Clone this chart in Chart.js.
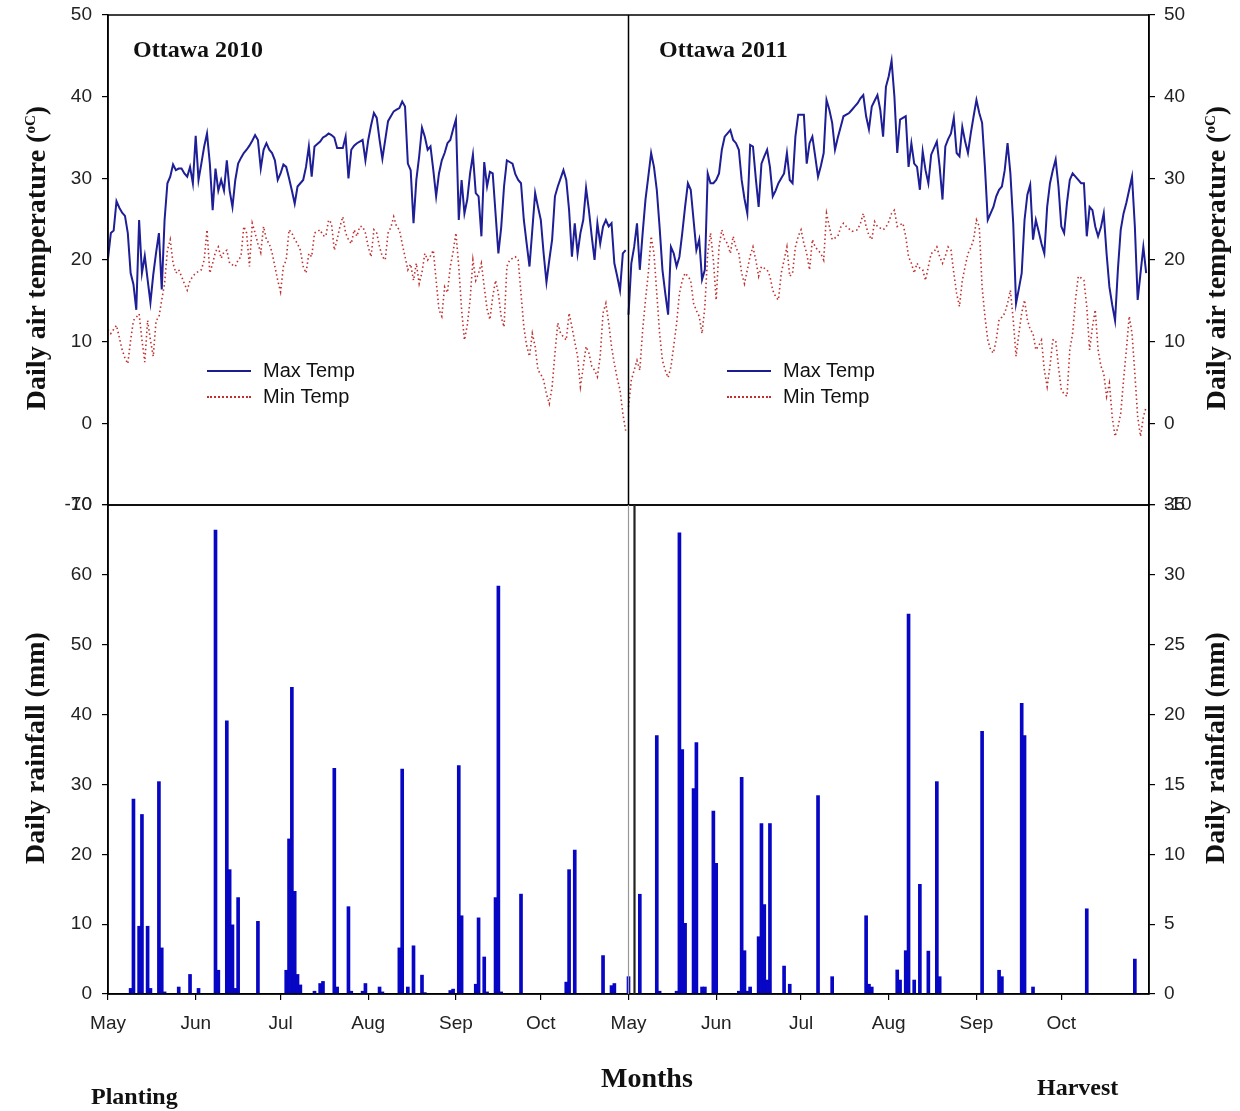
<!DOCTYPE html>
<html>
<head>
<meta charset="utf-8">
<script src="https://cdn.jsdelivr.net/npm/chart.js@4.4.1/dist/chart.umd.min.js"></script>
<style>
  body { margin: 0; background: #fff; width: 1240px; height: 1111px; position: relative; overflow: hidden; }
  canvas { position: absolute; left: 0; }
  #tempCanvas { top: 0; }
  #rainCanvas { top: 495px; }
  .lbl { position: absolute; white-space: nowrap; color: #111; }
  .serif { font-family: "Liberation Serif", "Times New Roman", serif; font-weight: bold; }
  .sans { font-family: "Liberation Sans", Arial, sans-serif; font-size: 20px; }
  .ytitle { width: 400px; height: 32px; line-height: 32px; text-align: center; transform: rotate(-90deg); font-size: 28px; }
  .ytitle sup { font-size: 15px; }
  .key { position: absolute; width: 44px; height: 0; }
</style>
</head>
<body>
<canvas id="tempCanvas" width="1240" height="520"></canvas>
<canvas id="rainCanvas" width="1240" height="616"></canvas>

<div class="lbl serif" style="left:133px; top:36px; font-size:24px;">Ottawa 2010</div>
<div class="lbl serif" style="left:659px; top:36px; font-size:24px;">Ottawa 2011</div>

<div class="key" style="left:207px; top:370px; border-top:2px solid #1c1c8c;"></div>
<div class="lbl sans" style="left:263px; top:359px;">Max Temp</div>
<div class="key" style="left:207px; top:396px; border-top:2px dotted #c03030;"></div>
<div class="lbl sans" style="left:263px; top:385px;">Min Temp</div>
<div class="key" style="left:727px; top:370px; border-top:2px solid #1c1c8c;"></div>
<div class="lbl sans" style="left:783px; top:359px;">Max Temp</div>
<div class="key" style="left:727px; top:396px; border-top:2px dotted #c03030;"></div>
<div class="lbl sans" style="left:783px; top:385px;">Min Temp</div>

<div class="lbl serif ytitle" style="left:-170px; top:242px;">Daily air temperature (<sup>oC</sup>)</div>
<div class="lbl serif ytitle" style="left:1010px; top:242px;">Daily air temperature (<sup>oC</sup>)</div>
<div class="lbl serif ytitle" style="left:-165px; top:732px;">Daily rainfall (mm)</div>
<div class="lbl serif ytitle" style="left:1015px; top:732px;">Daily rainfall (mm)</div>

<div class="lbl serif" style="left:601px; top:1062px; font-size:28px;">Months</div>
<div class="lbl serif" style="left:91px; top:1083px; font-size:24px;">Planting</div>
<div class="lbl serif" style="left:1037px; top:1074px; font-size:24px;">Harvest</div>

<script>
// days since 1 May; 2011 season is shifted right by SEASON_DAYS
const SEASON_DAYS = 184;
const monthStartDays = [0, 31, 61, 92, 123, 153];
const monthLabels = ['May', 'Jun', 'Jul', 'Aug', 'Sep', 'Oct'];
const tempTicks = [-10, 0, 10, 20, 30, 40, 50];

// daily max / min air temperature (deg C), one value per day from 1 May
const max2010 = [
  20.2, 23.3, 23.6, 27.2, 26.4, 25.8, 25.4, 23.3, 18.4, 17, 13.9, 24.9, 18.4, 20.5, 17.6, 14.8, 18.2, 20.9, 23.3, 16.4,
  24.9, 29.4, 30.2, 31.7, 31, 31.2, 31.2, 30.6, 30.2, 31.4, 29.4, 35.2, 29.8, 31.8, 33.9, 35.5, 31.8, 26.1, 31.2, 28.5,
  29.8, 28.5, 32.2, 28.5, 26.5, 29.8, 31.8, 32.5, 33.1, 33.5, 34, 34.6, 35.3, 34.7, 31.2, 33.5, 34.3, 33.5, 33.1, 32.2,
  29.8, 30.6, 31.7, 31.4, 30, 28.5, 26.9, 29, 29.4, 29.8, 31.4, 33.9, 30.2, 33.9, 34.2, 34.5, 35, 35.2, 35.5, 35.3,
  35, 33.7, 33.7, 33.7, 35.1, 30, 33.5, 34, 34.3, 34.5, 34.7, 32.2, 34.7, 36.5, 38, 37.4, 34.7, 32.4, 34.7, 37,
  37.6, 38.2, 38.4, 38.6, 39.4, 38.8, 31.8, 31, 24.5, 29.8, 32.7, 36.2, 35.1, 33.5, 33.9, 31, 27.8, 30.6, 32.2, 33.1,
  34.3, 34.7, 36, 37.2, 24.9, 29.8, 25.7, 27.4, 30.6, 32.9, 28.2, 27.8, 22.9, 32, 29, 30.8, 30.6, 25.7, 20.8, 24,
  29, 32.2, 32, 31.8, 30.5, 29.8, 29.4, 24.9, 22, 19.2, 23.7, 28.2, 26.5, 24.9, 20.8, 17.3, 20, 22.5, 27.8, 29,
  30, 31, 29.8, 26.1, 20.4, 24.5, 20.8, 23.3, 24.9, 28.8, 26.1, 22.9, 20, 24.5, 22, 24.1, 24.9, 24.1, 24.5, 19.6,
  18, 16.3, 20.8, 21.2
];
const min2010 = [
  11.5, 11, 11.5, 12, 10.5, 9, 8, 7.3, 10.2, 12.6, 13, 13.4, 10.2, 7.5, 12.6, 10.2, 8.2, 12.6, 13, 15.1,
  17.1, 21.2, 22.5, 19.6, 18.4, 18.8, 18, 17.1, 16.3, 17.5, 18, 18.4, 18.6, 18.8, 20, 23.7, 18.4, 19.6, 21, 21.6,
  20.2, 21, 21.2, 19.6, 19.4, 19.2, 20, 20.4, 24.1, 23.3, 19.2, 24.5, 23.3, 22, 20.9, 24.1, 22.5, 22, 20.9, 19.2,
  17.5, 16.1, 19.2, 20, 23.7, 23.3, 22.5, 22, 21.2, 19.2, 18.4, 20.8, 20.4, 23.3, 23.5, 23.7, 23, 22.9, 24.9, 24.5,
  21.2, 22.5, 24.1, 25.3, 23.3, 22.5, 22, 23.7, 22.9, 24.1, 24.1, 23.3, 21.6, 20.4, 23.7, 23.3, 21.6, 20.4, 20, 23.3,
  24, 25.3, 24.1, 23.7, 22, 20.4, 18.8, 19.5, 17.5, 19.6, 17.1, 18.5, 20.8, 20, 20.5, 21.2, 17.5, 13.9, 13.1, 16.7,
  16, 19.2, 21, 23.3, 19.2, 13.9, 10.2, 12, 15.1, 20, 17.5, 18.4, 19.6, 16.7, 14, 12.7, 15.5, 17.5, 15.9, 13,
  11.8, 19.2, 20, 20.2, 20.4, 20, 15.9, 11.8, 9.5, 8.2, 11, 9.4, 6.5, 6, 5.3, 3.6, 2.4, 4.5, 8.6, 12.3,
  11, 10.6, 10.2, 13.5, 11.8, 10, 8.2, 4.5, 6.9, 9.4, 8.6, 7, 6.5, 5.7, 8.2, 13.5, 14.7, 12.3, 9.4, 7.3,
  5.5, 4.1, 1.2, -0.9
];
const max2011 = [
  13.3, 19.6, 21.6, 24.5, 18.8, 23.3, 27.4, 30.2, 33.1, 31.4, 28.6, 24, 18.8, 15.9, 13.3, 21.6, 20.8, 19.2, 20.4, 23.3,
  26.5, 29.4, 28.6, 24.9, 21.2, 22.5, 17.6, 18.8, 30.6, 29.4, 29.4, 29.8, 30.6, 33.5, 35.1, 35.5, 35.9, 34.7, 34.3, 33.5,
  29.8, 27.5, 25.7, 34.1, 33.9, 30, 26.5, 31.8, 32.7, 33.5, 31.4, 27.8, 28.5, 29.4, 30, 30.6, 33.1, 29.8, 29.4, 35.1,
  37.8, 37.8, 37.8, 31.8, 34.3, 35.1, 32.7, 30.2, 31.5, 33.1, 39.6, 38.4, 36.8, 33.5, 35, 36.3, 37.6, 37.8, 38, 38.4,
  38.8, 39.2, 39.8, 40.2, 37.6, 36, 38.8, 39.5, 40.2, 38.4, 35.1, 41.2, 42.5, 44.4, 40, 33.1, 37.2, 37.4, 37.6, 31.4,
  34.3, 31.8, 31.4, 28.6, 33.3, 31, 29.4, 32.9, 33.7, 34.5, 31.4, 27.4, 33.9, 34.8, 35.5, 37.4, 33.1, 32.7, 36.3, 34.5,
  33.1, 35.5, 37.6, 39.6, 38, 36.8, 31.4, 24.9, 25.7, 26.5, 27.8, 28.6, 29, 31, 34.3, 30.6, 24.5, 14.7, 16.5, 18.4,
  24.9, 28, 29.2, 22.5, 24.9, 23.5, 22, 20.8, 26.5, 29.4, 31, 32.3, 29, 24.1, 23.3, 27, 29.8, 30.6, 30.2, 29.8,
  29.4, 29.4, 22.9, 26.5, 26.1, 24.1, 22.9, 24, 25.7, 20.8, 16.7, 14.5, 12.6, 18.8, 23.7, 25.7, 27, 28.6, 30.2, 24.1,
  15.1, 18.4, 21.6, 18.4
];
const min2011 = [
  2, 5.3, 6.5, 7.7, 6.5, 11.4, 15.1, 18.4, 22.9, 20.8, 15.9, 11, 7.7, 6.5, 5.6, 6.9, 9.5, 12.2, 15.9, 17.5,
  18.4, 18, 17.5, 14.7, 13.8, 13.1, 11, 14.3, 20.8, 23.3, 20, 15.1, 21.6, 23.7, 22.5, 22, 20.8, 22.9, 21.5, 20.8,
  18.4, 17.1, 18.8, 20.5, 21.6, 20, 18, 19.2, 19, 18.8, 18, 16.3, 15.5, 15.1, 18.4, 20, 21.6, 18, 18.4, 21.6,
  22.9, 23.7, 22, 20.8, 18.8, 22.5, 21.6, 21.2, 20.8, 20, 25.7, 24.1, 22.5, 22.7, 22.9, 24, 24.5, 24.1, 23.8, 23.5,
  23.6, 23.7, 24.5, 25.7, 24.1, 23, 22.5, 24.7, 24.1, 23.9, 23.7, 24, 24.7, 25.7, 26.1, 24.1, 24.3, 24.5, 22.9, 20.4,
  19.6, 18.4, 19.6, 19, 18.8, 17.5, 19.2, 20.8, 21, 21.6, 20.4, 19.6, 20.5, 21.6, 21.2, 18.4, 15.9, 14.3, 17.5, 19.2,
  20.8, 21.5, 22.5, 24.9, 24.1, 16.7, 13.1, 10.2, 9, 8.6, 10.2, 12.7, 13, 13.5, 14.7, 16.3, 12.7, 8.2, 11, 13.5,
  15.1, 12.7, 11.5, 11, 9, 9.5, 10.2, 6.5, 4.5, 7, 10.2, 10.2, 6.9, 4.1, 3.6, 3.3, 9, 11, 15.1, 18,
  17.8, 17.5, 14.3, 9, 11.8, 13.9, 9, 7, 6.1, 3.3, 4.9, 0.8, -1.6, -0.5, 1.2, 5.3, 9, 13.1, 11, 6.1,
  0.8, -1.6, 0.8, 2
];

// daily rainfall: rain days (days since 1 May) and amounts
const rain2010Days = [8, 9, 11, 12, 14, 15, 18, 19, 20, 25, 29, 32, 38, 39, 42, 43, 44, 45, 46, 53,
  63, 64, 65, 66, 67, 68, 73, 75, 76, 80, 81, 85, 86, 90, 91, 96, 97, 103, 104, 106,
  108, 111, 112, 121, 122, 124, 125, 130, 131, 133, 134, 137, 138, 139, 146, 162, 163, 165, 175, 178, 179];
const rain2010Mm = [0.8, 27.9, 9.7, 25.7, 9.7, 0.8, 30.4, 6.6, 0.3, 1.0, 2.8, 0.8, 66.4, 3.4, 39.1, 17.8, 9.9, 0.8, 13.8, 10.4,
  3.4, 22.2, 43.9, 14.7, 2.8, 1.3, 0.4, 1.5, 1.8, 32.3, 1.0, 12.5, 0.4, 0.4, 1.5, 1.0, 0.3, 6.6, 32.2, 1.0,
  6.9, 2.7, 0.2, 0.5, 0.7, 32.7, 11.2, 1.4, 10.9, 5.3, 0.3, 13.8, 58.4, 0.3, 14.3, 1.7, 17.8, 20.6, 5.5, 1.2, 1.5];
// 2011 rainfall is read against the right-hand axis (0-35)
const rain2011Days = [0, 4, 10, 11, 17, 18, 19, 20, 23, 24, 26, 27, 30, 31, 39, 40, 41, 42, 43, 46,
  47, 48, 49, 50, 55, 57, 67, 72, 84, 85, 86, 95, 96, 98, 99, 101, 103, 106, 109, 110,
  125, 131, 132, 139, 140, 143, 162, 179];
const rain2011Mm = [1.24, 7.14, 18.5, 0.2, 0.2, 33.0, 17.5, 5.06, 14.7, 18.0, 0.5, 0.5, 13.1, 9.36, 0.2, 15.5, 3.1, 0.2, 0.5, 4.1,
  12.2, 6.4, 1.0, 12.2, 2.0, 0.7, 14.2, 1.24, 5.6, 0.7, 0.5, 1.72, 1.0, 3.1, 27.2, 1.0, 7.85, 3.07, 15.2, 1.24,
  18.8, 1.7, 1.24, 20.8, 18.5, 0.5, 6.1, 2.5];

const TICK_FONT = { family: '"Liberation Sans", Arial, sans-serif', size: 19 };
const MAX_COLOR = '#1e1e96';
const MIN_COLOR = '#c03030';
const BAR_COLOR = '#0606c4';

function toPoints(values, offset) {
  return values.map((v, i) => ({ x: i + offset, y: v }));
}
function toBars(days, values, offset) {
  return days.map((d, i) => ({ x: d + offset, y: values[i] }));
}

function yAxis(position, min, max, step, width) {
  return {
    position: position,
    min: min,
    max: max,
    ticks: { stepSize: step, font: TICK_FONT, color: '#222', padding: position === 'left' ? 10 : 9 },
    grid: { drawOnChartArea: false, tickLength: 6, color: '#000', lineWidth: 1.2 },
    border: { color: '#000', width: 1.5 },
    // fixed width, and no extra room for the end labels so both panels line up exactly
    afterFit: scale => { scale.width = width; scale.paddingTop = 0; scale.paddingBottom = 0; }
  };
}

// frame round the plot plus the line that splits the two seasons
function framePlugin(doubleDivider) {
  return {
    id: 'frame',
    afterDraw(chart) {
      const { ctx, chartArea: a, scales } = chart;
      const xs = scales.x.getPixelForValue(SEASON_DAYS);
      ctx.save();
      ctx.strokeStyle = '#000';
      ctx.lineWidth = 1.5;
      ctx.strokeRect(a.left, a.top, a.right - a.left, a.bottom - a.top);
      if (doubleDivider) {
        ctx.strokeStyle = '#999';
        ctx.lineWidth = 1.2;
        ctx.beginPath(); ctx.moveTo(xs, a.top); ctx.lineTo(xs, a.bottom); ctx.stroke();
        ctx.strokeStyle = '#222';
        ctx.lineWidth = 2.2;
        ctx.beginPath(); ctx.moveTo(xs + 6, a.top); ctx.lineTo(xs + 6, a.bottom); ctx.stroke();
      } else {
        ctx.beginPath(); ctx.moveTo(xs, a.top); ctx.lineTo(xs, a.bottom); ctx.stroke();
      }
      ctx.restore();
    }
  };
}

const maxStyle = { borderColor: MAX_COLOR, borderWidth: 2, pointRadius: 0, tension: 0, fill: false };
const minStyle = { borderColor: MIN_COLOR, borderWidth: 1.6, borderDash: [1.5, 2.8], pointRadius: 0, tension: 0, fill: false };

new Chart(document.getElementById('tempCanvas'), {
  type: 'line',
  data: {
    datasets: [
      Object.assign({ label: 'Max Temp 2010', data: toPoints(max2010, 0) }, maxStyle),
      Object.assign({ label: 'Max Temp 2011', data: toPoints(max2011, SEASON_DAYS) }, maxStyle),
      Object.assign({ label: 'Min Temp 2010', data: toPoints(min2010, 0) }, minStyle),
      Object.assign({ label: 'Min Temp 2011', data: toPoints(min2011, SEASON_DAYS) }, minStyle)
    ]
  },
  options: {
    responsive: false,
    animation: false,
    devicePixelRatio: 1,
    layout: { autoPadding: false, padding: { left: 48, right: 31, top: 15, bottom: 15 } },
    plugins: { legend: { display: false }, tooltip: { enabled: false } },
    scales: {
      x: { type: 'linear', min: 0, max: 2 * SEASON_DAYS, display: false },
      y: yAxis('left', tempTicks[0], tempTicks[tempTicks.length - 1], 10, 60),
      y2: yAxis('right', tempTicks[0], tempTicks[tempTicks.length - 1], 10, 60)
    }
  },
  plugins: [framePlugin(false)]
});

const monthTickValues = monthStartDays.concat(monthStartDays.map(d => d + SEASON_DAYS));
const monthTickLabels = monthLabels.concat(monthLabels);

new Chart(document.getElementById('rainCanvas'), {
  type: 'bar',
  data: {
    datasets: [
      { label: 'Rain 2010', data: toBars(rain2010Days, rain2010Mm, 0), yAxisID: 'y',
        backgroundColor: BAR_COLOR, barThickness: 3, grouped: false },
      { label: 'Rain 2011', data: toBars(rain2011Days, rain2011Mm, SEASON_DAYS), yAxisID: 'y2',
        backgroundColor: BAR_COLOR, barThickness: 3, grouped: false }
    ]
  },
  options: {
    responsive: false,
    animation: false,
    devicePixelRatio: 1,
    layout: { autoPadding: false, padding: { left: 48, right: 31, top: 10, bottom: 72 } },
    plugins: { legend: { display: false }, tooltip: { enabled: false } },
    scales: {
      x: {
        type: 'linear', min: 0, max: 2 * SEASON_DAYS, offset: false,
        afterBuildTicks: scale => { scale.ticks = monthTickValues.map(v => ({ value: v })); },
        ticks: {
          font: TICK_FONT, color: '#222', padding: 12, maxRotation: 0, autoSkip: false,
          callback: (value, index) => monthTickLabels[index]
        },
        grid: { offset: false, drawOnChartArea: false, tickLength: 6, color: '#000', lineWidth: 1.2 },
        border: { color: '#000', width: 1.5 },
        afterFit: scale => { scale.height = 45; }
      },
      y: yAxis('left', 0, 70, 10, 60),
      y2: yAxis('right', 0, 35, 5, 60)
    }
  },
  plugins: [framePlugin(true)]
});
</script>
</body>
</html>
